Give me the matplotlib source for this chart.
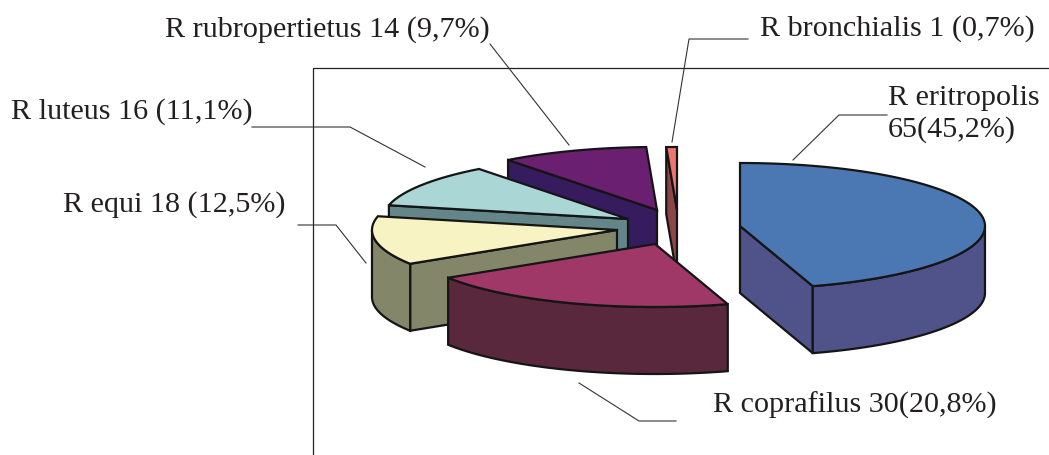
## EXPLODED 3D PIE OF RHODOCOCCUS SPECIES, DRAWN BY HAND FROM PROJECTED ELLIPSE SECTORS
import numpy as np
import matplotlib
matplotlib.use('Agg')
import matplotlib.pyplot as plt

## DATA:
species = ['R eritropolis', 'R coprafilus', 'R equi', 'R luteus', 'R rubropertietus', 'R bronchialis']
counts = [65, 30, 18, 16, 14, 1]
percents = [45.2, 20.8, 12.5, 11.1, 9.7, 0.7]

## STYLE:
top_colors = ['#4b77b3', '#9f3767', '#f7f3c2', '#aad6d6', '#6a1f70', '#ee7570']
side_colors = ['#50528a', '#5a283d', '#84866a', '#658688', '#361b5e', '#8e4548']
centres = [(740, 226), (655, 244), (617, 230), (628, 219), (657, 210), (677, 210)]
rx, ry, depth = 245, 63, 67
edge = '#151515'
text_color = '#231f20'

fig = plt.figure(figsize=(10.49, 4.55), dpi=100)
ax = fig.add_axes([0, 0, 1, 1])
ax.set_xlim(0, 1049)
ax.set_ylim(455, 0)
ax.axis('off')


def rim(cx, cy, a0, a1):
    # points along the top ellipse between two angles in degrees
    n = max(int(abs(a1 - a0)), 2)
    t = np.radians(np.linspace(a0, a1, n))
    return cx + rx * np.cos(t), cy - ry * np.sin(t)


def draw_face(x, y, color):
    ax.fill(x, y, facecolor=color, edgecolor=edge, lw=1.6, joinstyle='miter')


def cut_face(cx, cy, a, color):
    # flat side of a sector from the apex out to the rim
    x, y = rim(cx, cy, a, a)
    x, y = x[0], y[0]
    draw_face([cx, x, x, cx], [cy, y, y + depth, cy + depth], color)


## SECTOR ANGLES, CLOCKWISE FROM 12 O'CLOCK:
ends = 90 - np.cumsum(percents) * 3.6
starts = np.concatenate(([90], ends[:-1]))

## BACK SECTORS FIRST SO THE FRONT ONES COVER THEM:
for i in [5, 4, 3, 2, 1, 0]:
    cx, cy = centres[i]
    a0, a1 = starts[i], ends[i]
    if np.cos(np.radians(a0)) < -1e-6:
        cut_face(cx, cy, a0, side_colors[i])
    if np.cos(np.radians(a1)) > 1e-6:
        cut_face(cx, cy, a1, side_colors[i])

    # curved wall only where the rim faces the viewer
    t = np.linspace(a0, a1, 200)
    t = t[np.sin(np.radians(t)) < 0]
    if t.size > 1:
        x, y = rim(cx, cy, t[0], t[-1])
        draw_face(np.concatenate((x, x[::-1])), np.concatenate((y, y[::-1] + depth)), side_colors[i])

    x, y = rim(cx, cy, a0, a1)
    draw_face(np.concatenate(([cx], x)), np.concatenate(([cy], y)), top_colors[i])

## PLOT FRAME:
ax.plot([313, 313, 1049], [455, 68, 68], color='#222222', lw=0.9, solid_joinstyle='miter')

## LEADER LINES:
leaders = [
    ([887, 839, 793], [115, 115, 160]),
    ([676, 639, 579], [421, 421, 383]),
    ([298, 336, 366], [225, 225, 263]),
    ([252, 350, 425], [127, 127, 167]),
    ([490, 569], [44, 145]),
    ([748, 689, 672], [39, 39, 142]),
]
for lx, ly in leaders:
    ax.plot(lx, ly, color='#333333', lw=0.8)

## LABELS:
labels = [
    (888, 114, f'{species[0]}\n{counts[0]}(45,2%)'),
    (713, 405, f'{species[1]} {counts[1]}(20,8%)'),
    (63, 205, f'{species[2]} {counts[2]} (12,5%)'),
    (11, 112, f'{species[3]} {counts[3]} (11,1%)'),
    (165, 30, f'{species[4]} {counts[4]} (9,7%)'),
    (760, 29, f'{species[5]} {counts[5]} (0,7%)'),
]
for tx, ty, s in labels:
    ax.text(tx, ty, s, family='Liberation Serif', fontsize=21.7, color=text_color,
            va='center', ha='left', linespacing=1.26)

fig.savefig('out.png', dpi=100)
